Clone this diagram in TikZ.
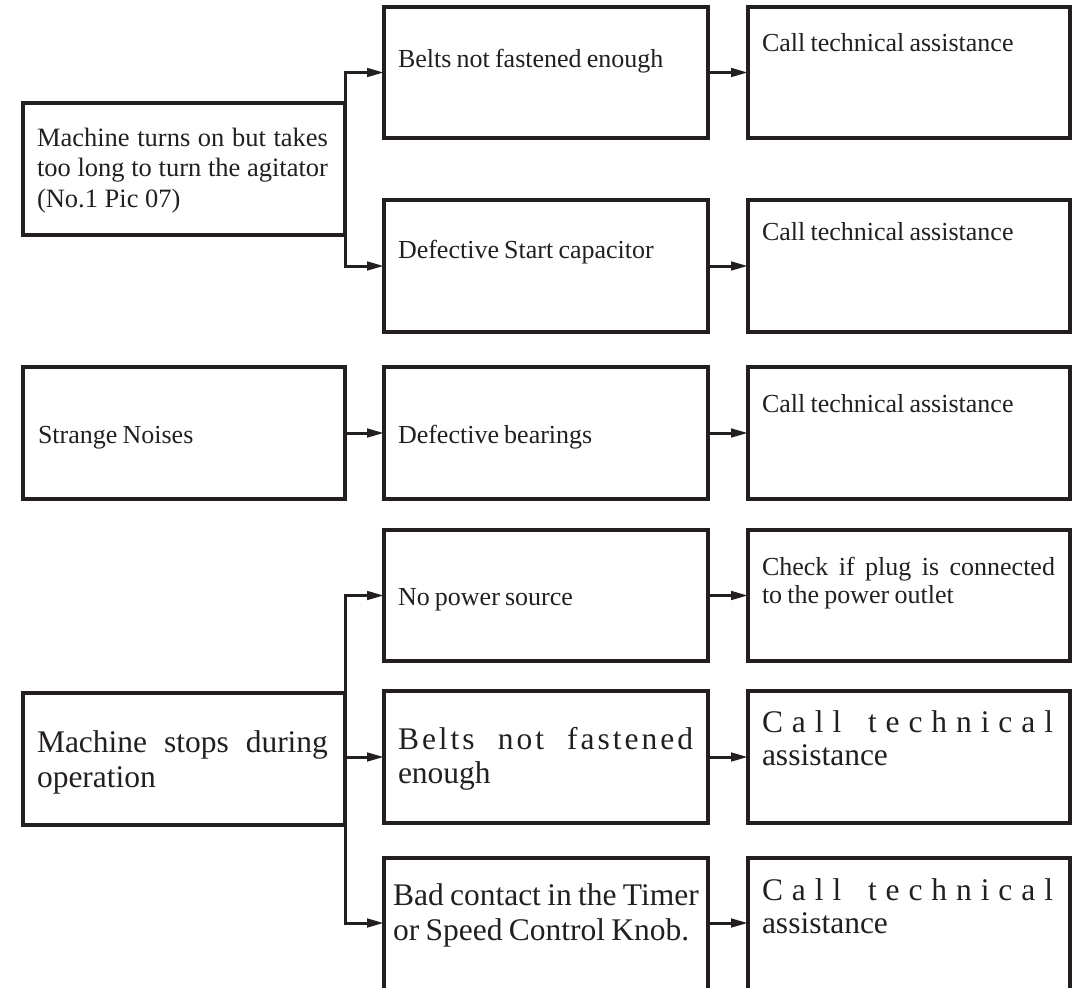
\documentclass[tikz,border=0pt]{standalone}
\usepackage{fontspec}
\setmainfont{Liberation Serif}
\usetikzlibrary{arrows.meta}
\definecolor{ink}{RGB}{35,31,32}
\newcommand\stacklines[2]{\vtop{\baselineskip=#1pt\lineskiplimit=-100pt\lineskip=0pt\relax #2}}
\newcommand\tightsp{\spaceskip=0.2em plus 0.5em minus 0.05em\relax}
\begin{document}
\begin{tikzpicture}[x=1pt,y=-1pt,
  box/.style={draw=ink,line width=3.5pt,rectangle,inner sep=0pt,outer sep=0pt,anchor=north west},
  lbox/.style={box,minimum width=322pt,minimum height=132pt},
  mbox/.style={box,minimum width=324pt,minimum height=131pt},
  rbox/.style={box,minimum width=322pt,minimum height=131pt},
  conn/.style={draw=ink,line width=3pt,-{Triangle[length=17pt,width=8.5pt]}},
  txt/.style={inner sep=0pt,outer sep=0pt,anchor=base west,text=ink,
    font=\fontsize{26}{30}\selectfont\tightsp},
  big/.style={inner sep=0pt,outer sep=0pt,anchor=base west,text=ink,
    font=\fontsize{31.5}{35}\selectfont\tightsp}]
\clip (0,0) rectangle (1075,987);

% boxes
\node[lbox] (l1) at (23,103) {};
\node[mbox] (m1) at (384,7) {};
\node[rbox] (r1) at (748,7) {};
\node[mbox,minimum height=132pt] (m2) at (384,200) {};
\node[rbox,minimum height=132pt] (r2) at (748,200) {};

\node[lbox] (l2) at (23,367) {};
\node[mbox,minimum height=132pt] (m3) at (384,367) {};
\node[rbox,minimum height=132pt] (r3) at (748,367) {};

\node[lbox] (l3) at (23,693) {};
\node[mbox] (m4) at (384,530) {};
\node[rbox] (r4) at (748,530) {};
\node[mbox,minimum height=132pt] (m5) at (384,691) {};
\node[rbox,minimum height=132pt] (r5) at (748,691) {};
\node[mbox,minimum height=200pt] (m6) at (384,858) {};
\node[rbox,minimum height=200pt] (r6) at (748,858) {};

% texts
\node[txt,font=\fontsize{26.5}{30}\selectfont] (tl1) at (37,147) {\stacklines{30}{%
  \hbox to 291pt{Machine turns on but takes}%
  \hbox to 291pt{too long to turn the agitator}%
  \hbox{(No.1 Pic 07)}}};
\node[txt] (tm1) at (398,68) {Belts not fastened enough};
\node[txt] (tr1) at (762,52) {Call technical assistance};
\node[txt] (tm2) at (398,258) {Defective Start capacitor};
\node[txt] (tr2) at (762,240) {Call technical assistance};

\node[txt] (tl2) at (38,443) {Strange Noises};
\node[txt] (tm3) at (398,443) {Defective bearings};
\node[txt] (tr3) at (762,412) {Call technical assistance};

\node[txt] (tm4) at (398,605) {No power source};
\node[txt] (tr4) at (762,575) {\stacklines{28}{%
  \hbox to 293pt{Check if plug is connected}%
  \hbox{to the power outlet}}};
\node[big] (tl3) at (37,752) {\stacklines{35}{%
  \hbox to 291pt{Machine stops during}%
  \hbox{operation}}};
\node[big] (tm5) at (398,749) {\stacklines{34}{%
  \hbox to 295pt{B\kern3pt e\kern3pt l\kern3pt t\kern3pt s\hfill n\kern3pt o\kern3pt t\hfill f\kern3pt a\kern3pt s\kern3pt t\kern3pt e\kern3pt n\kern3pt e\kern3pt d}%
  \hbox{enough}}};
\node[big] (tr5) at (762,732) {\stacklines{33}{%
  \hbox to 291pt{C\hfil a\hfil l\hfil l\hskip0pt plus 3fil t\hfil e\hfil c\hfil h\hfil n\hfil i\hfil c\hfil a\hfil l}%
  \hbox{assistance}}};
\node[big] (tm6) at (393,905) {\stacklines{35}{%
  \hbox{Bad contact in the Timer}%
  \hbox{or Speed Control Knob.}}};
\node[big] (tr6) at (762,900) {\stacklines{33}{%
  \hbox to 291pt{C\hfil a\hfil l\hfil l\hskip0pt plus 3fil t\hfil e\hfil c\hfil h\hfil n\hfil i\hfil c\hfil a\hfil l}%
  \hbox{assistance}}};

% connectors
\draw[conn] (l1.north east) |- (m1.west);
\draw[conn] (l1.south east) |- (m2.west);
\draw[conn] (m1.east) -- (r1.west);
\draw[conn] (m2.east) -- (r2.west);
\draw[conn] (l2.east) -- (m3.west);
\draw[conn] (m3.east) -- (r3.west);
\draw[conn] (l3.north east) |- (m4.west);
\draw[conn] (l3.east |- m5.west) -- (m5.west);
\draw[conn] (l3.south east) |- ([yshift=-65pt]m6.north west);
\draw[conn] (m4.east) -- (r4.west);
\draw[conn] (m5.east) -- (r5.west);
\draw[conn] ([yshift=-65pt]m6.north east) -- ([yshift=-65pt]r6.north west);
\end{tikzpicture}
\end{document}
